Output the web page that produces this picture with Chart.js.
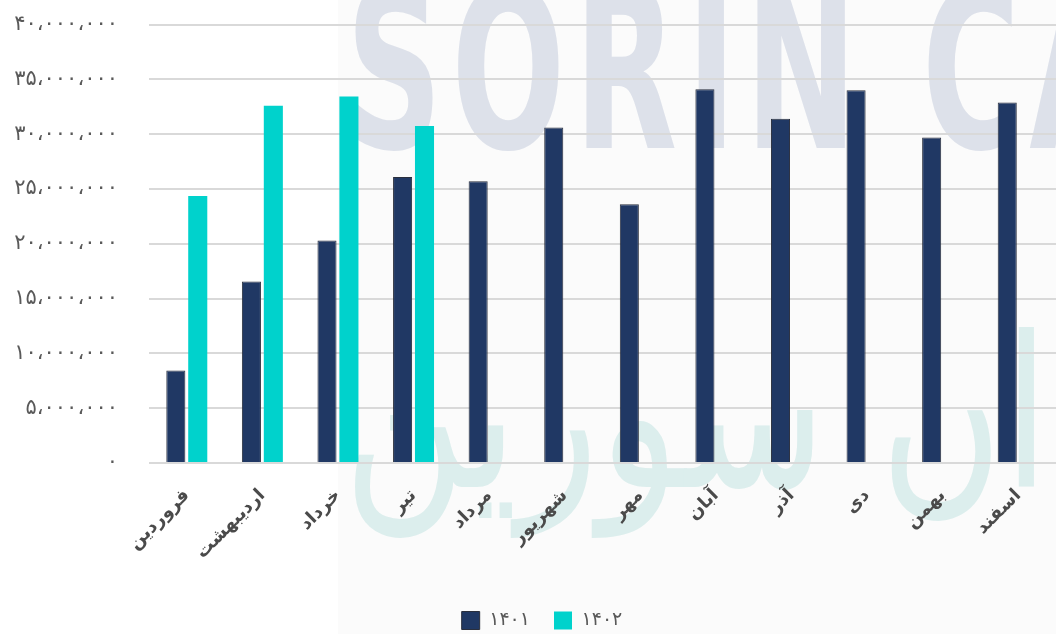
<!DOCTYPE html>
<html lang="fa">
<head>
<meta charset="UTF-8">
<title>1401 vs 1402</title>
<script src="https://cdn.jsdelivr.net/npm/chart.js"></script>
<style>
  html, body { margin: 0; padding: 0; background: #fff; overflow: hidden; }
  #wrap { position: relative; width: 1056px; height: 634px; overflow: hidden; }
  /* پس زمینه و واترمارک */
  #shade { position: absolute; left: 338px; top: 0; width: 718px; height: 634px; background: #fbfbfb; overflow: hidden; }
  #wm1 { position: absolute; left: 8px; top: -42px; font-family: "DejaVu Sans Condensed", "DejaVu Sans", sans-serif;
         font-weight: bold; font-size: 225px; letter-spacing: 14px; line-height: 1; color: #dde1ea; white-space: nowrap;
         transform: scaleX(0.66); transform-origin: left top; }
  #wm2 { position: absolute; left: 5px; top: 310px; font-family: "DejaVu Sans", sans-serif; direction: rtl;
         font-size: 210px; line-height: 1; color: #dceeed; white-space: nowrap;
         transform: scaleX(0.8); transform-origin: left top; }
  canvas { position: absolute; left: 0; top: -19px; }
</style>
</head>
<body>
<div id="wrap">
  <div id="shade">
    <div id="wm1">SORIN CA</div>
    <div id="wm2">سبدگردان سورین</div>
  </div>
  <canvas id="chart" width="1056" height="667"></canvas>
</div>
<script>
  // داده ها
  const months = ["فروردین", "اردیبهشت", "خرداد", "تیر", "مرداد", "شهریور",
                  "مهر", "آبان", "آذر", "دی", "بهمن", "اسفند"];
  const sales1401 = [8450000, 16550000, 20300000, 26100000, 25700000, 30600000,
                     23600000, 34100000, 31400000, 34000000, 29700000, 32900000];
  const sales1402 = [24350000, 32600000, 33450000, 30750000, null, null,
                     null, null, null, null, null, null];
  const yearLabels = ["۱۴۰۱", "۱۴۰۲"];

  const faDigits = "۰۱۲۳۴۵۶۷۸۹";
  function toFa(n) {
    const s = Math.round(n).toString().replace(/\B(?=(\d{3})+(?!\d))/g, "،");
    return s.replace(/\d/g, d => faDigits[d]);
  }

  // لجند کمی به راست
  const shiftLegend = {
    id: "shiftLegend",
    afterLayout(chart) { chart.legend.left += 28; }
  };

  new Chart(document.getElementById("chart"), {
    type: "bar",
    data: {
      labels: months,
      datasets: [
        {
          label: yearLabels[0],
          data: sales1401,
          backgroundColor: "#203864",
          borderColor: "#2a2f3d",
          borderWidth: 1
        },
        {
          label: yearLabels[1],
          data: sales1402,
          backgroundColor: "#00d2cc",
          borderColor: "#00d2cc",
          borderWidth: 0
        }
      ]
    },
    plugins: [shiftLegend],
    options: {
      responsive: false,
      animation: false,
      categoryPercentage: 0.58,
      barPercentage: 0.87,
      layout: { padding: { top: 4, left: 0, right: 0, bottom: 8 } },
      plugins: {
        tooltip: { enabled: false },
        legend: {
          position: "bottom",
          labels: {
            boxWidth: 18,
            boxHeight: 18,
            padding: 24,
            color: "#595959",
            font: { family: "DejaVu Sans", size: 19 }
          }
        }
      },
      scales: {
        x: {
          grid: { display: false },
          border: { display: false },
          ticks: {
            minRotation: 45,
            maxRotation: 45,
            padding: 14,
            color: "#4a4a4a",
            font: { family: "DejaVu Sans", size: 18, weight: "bold" }
          },
          afterFit: s => { s.height = 124; }
        },
        y: {
          min: 0,
          max: 40000000,
          grid: { color: "#d9d9d9", lineWidth: 2, drawTicks: false },
          border: { display: false },
          ticks: {
            stepSize: 5000000,
            padding: 31,
            color: "#595959",
            font: { family: "DejaVu Sans", size: 21 },
            callback: v => toFa(v)
          },
          afterFit: s => { s.width = 149; }
        }
      }
    }
  });
</script>
</body>
</html>
